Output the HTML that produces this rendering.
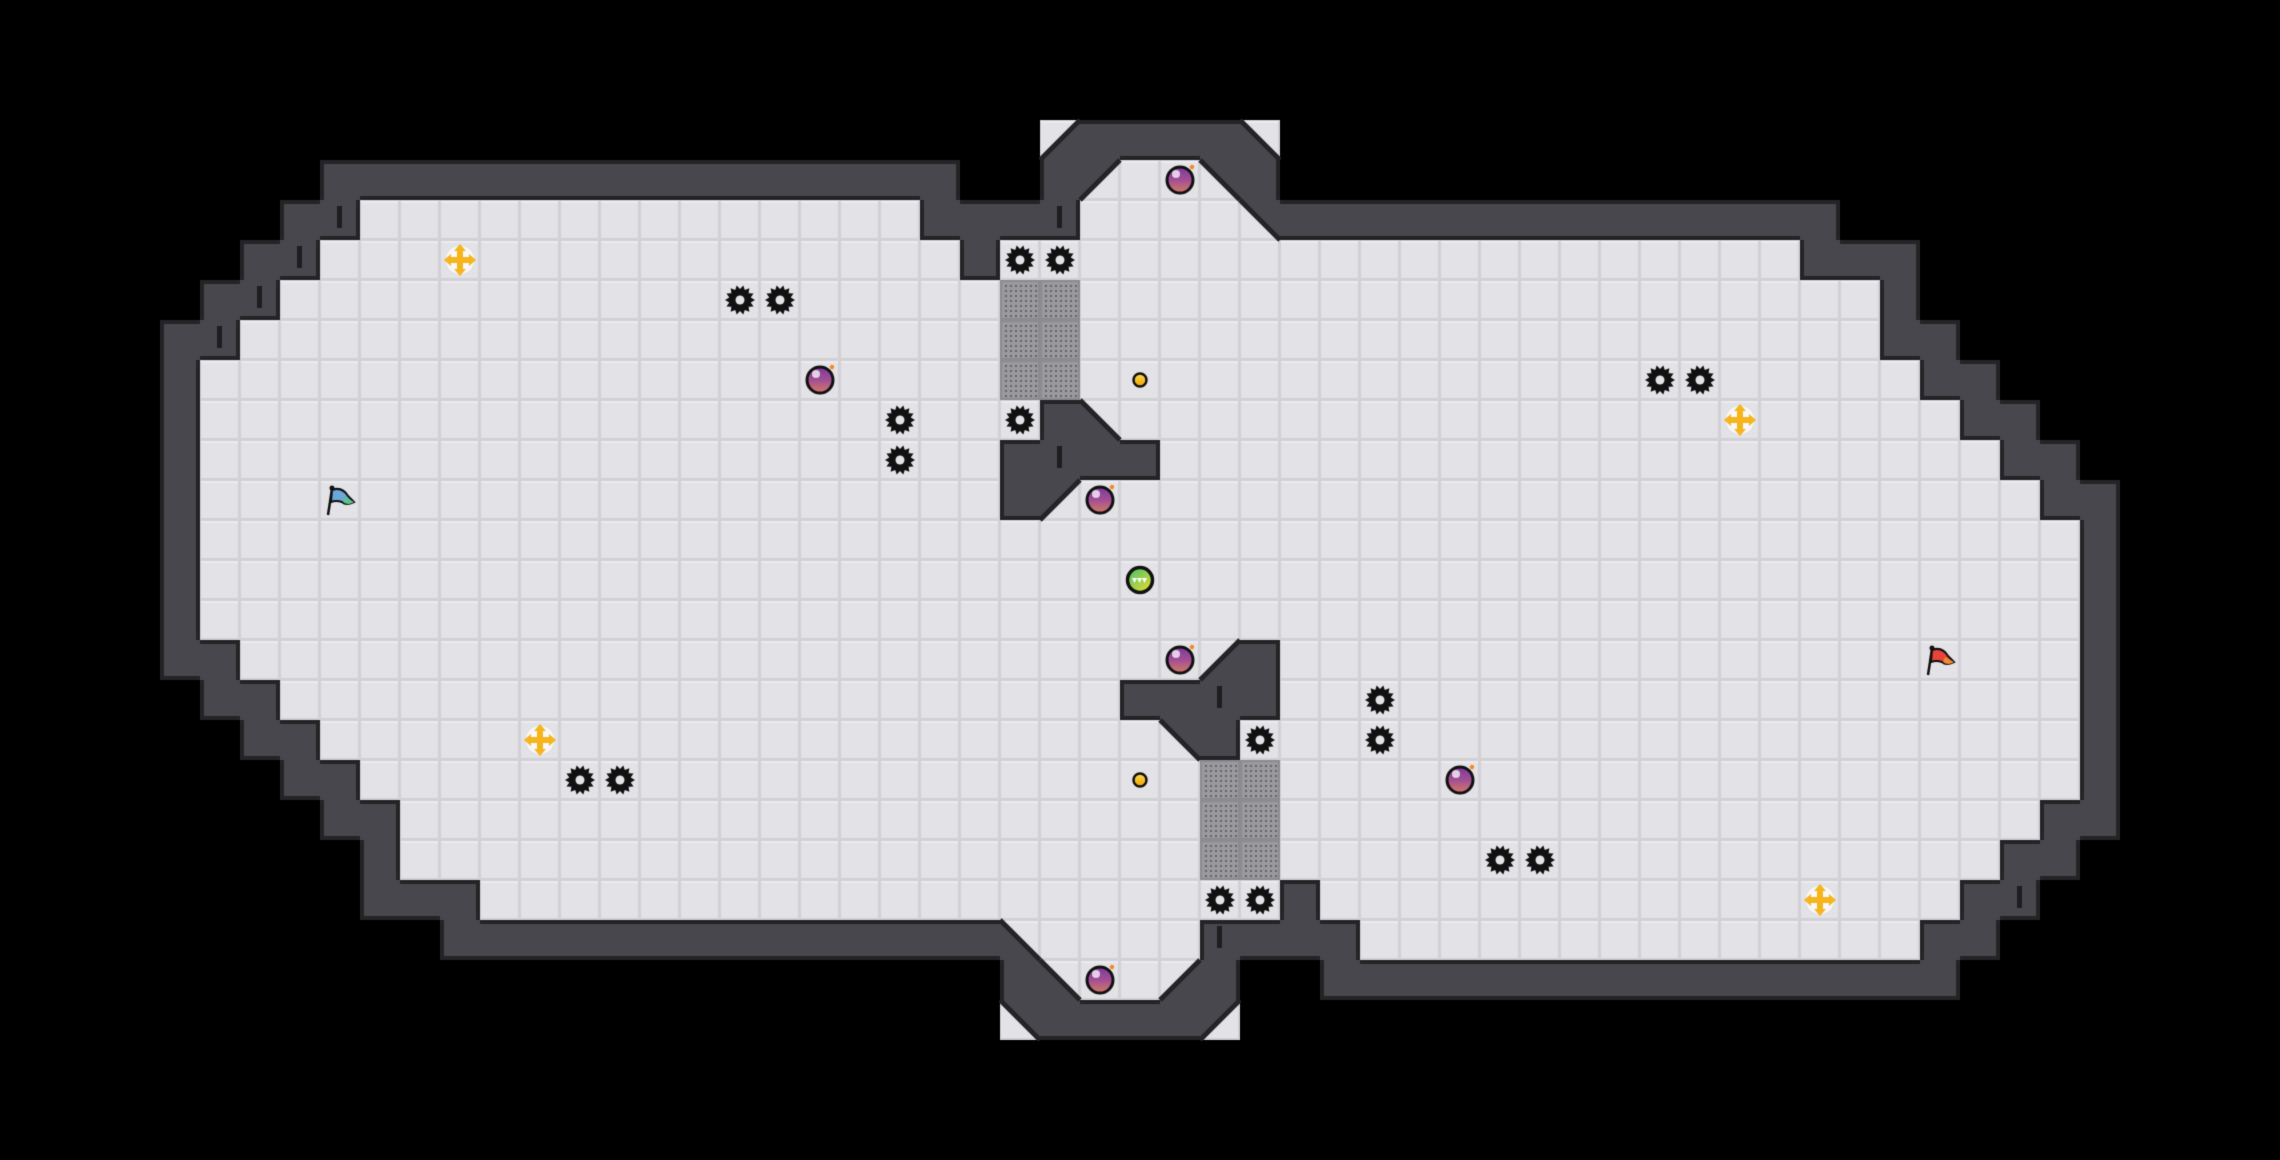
<!DOCTYPE html>
<html><head><meta charset="utf-8"><style>
html,body{margin:0;padding:0;background:#000;width:2280px;height:1160px;overflow:hidden}
canvas{display:block}
</style></head><body>
<canvas id="c" width="2280" height="1160"></canvas>
<script>
const C=40,W=57,H=29;
const cv=document.getElementById('c'),g=cv.getContext('2d');
g.fillStyle='#000';g.fillRect(0,0,2280,1160);
const T=[];for(let r=0;r<H;r++){T.push(new Array(W).fill(0));}
const up={4:[[28,29]],5:[[9,22],[27,30]],6:[[8,23],[25,44]],7:[[7,46]],8:[[6,46]],9:[[5,47]],
10:[[5,25],[28,48]],11:[[5,24],[29,49]],12:[[5,24],[27,50]],13:[[5,51]],14:[[5,51]]};
for(const r in up)for(const [a,b] of up[r])for(let c=a;c<=b;c++)T[r][c]=1;
T[4][27]='BR';T[4][30]='BL';T[5][31]='BL';T[10][27]='TR';T[12][26]='BR';
const mt={BR:'TL',TL:'BR',BL:'TR',TR:'BL'};
for(let r=15;r<H;r++)for(let c=0;c<W;c++){const v=T[28-r][56-c];T[r][c]=(typeof v==='string')?mt[v]:v;}
const isF=v=>v===1||typeof v==='string';
const excl={'32,4':1,'24,24':1};
for(let r=0;r<H;r++)for(let c=0;c<W;c++){
 if(T[r][c]!==0||excl[c+','+r])continue;
 let adj=false;
 for(let dr=-1;dr<=1;dr++)for(let dc=-1;dc<=1;dc++){const rr=r+dr,cc=c+dc;if(rr>=0&&rr<H&&cc>=0&&cc<W&&isF(T[rr][cc]))adj=true;}
 if(adj)T[r][c]=2;
}
const WALL='#48474d',EDGE='#242427';
function floorCell(x,y){
 g.fillStyle='#d1d1d6';g.fillRect(x,y,C,C);
 g.fillStyle='#e3e3e7';g.fillRect(x+1,y+1,C-3,C-3);
 g.fillStyle='#ececef';g.fillRect(x+1,y+1,C-3,2);
}
function tri(x,y,k){
 const p={BR:[[x+C,y],[x+C,y+C],[x,y+C]],BL:[[x,y],[x+C,y+C],[x,y+C]],TR:[[x,y],[x+C,y],[x+C,y+C]],TL:[[x,y],[x+C,y],[x,y+C]]}[k];
 g.beginPath();g.moveTo(...p[0]);g.lineTo(...p[1]);g.lineTo(...p[2]);g.closePath();
}
function diag(x,y,k){
 g.beginPath();
 if(k==='BR'||k==='TL'){g.moveTo(x,y+C);g.lineTo(x+C,y);}else{g.moveTo(x,y);g.lineTo(x+C,y+C);}
 g.strokeStyle=EDGE;g.lineWidth=5;g.stroke();
}
for(let r=0;r<H;r++)for(let c=0;c<W;c++){
 const v=T[r][c],x=c*C,y=r*C;
 if(v===1)floorCell(x,y);
 else if(v===2){g.fillStyle=WALL;g.fillRect(x,y,C,C);}
 else if(typeof v==='string'){g.fillStyle=WALL;g.fillRect(x,y,C,C);g.save();tri(x,y,v);g.clip();floorCell(x,y);g.restore();}
}
function touches(v,side){
 if(v===1)return true;
 const m={BR:['R','B'],BL:['L','B'],TR:['T','R'],TL:['T','L']};
 return typeof v==='string'&&m[v].includes(side);
}
const get=(c,r)=>(r<0||r>=H||c<0||c>=W)?0:T[r][c];
g.fillStyle=EDGE;
for(let r=0;r<H;r++)for(let c=0;c<W;c++){
 if(T[r][c]!==2)continue;const x=c*C,y=r*C,e=4;
 const n=[[0,-1,'B',x,y,C,e],[0,1,'T',x,y+C-e,C,e],[-1,0,'R',x,y,e,C],[1,0,'L',x+C-e,y,e,C]];
 for(const [dc,dr,s,rx,ry,rw,rh] of n){const nv=get(c+dc,r+dr);if(touches(nv,s)||nv===0){g.fillRect(rx,ry,rw,rh);}}
}
for(let r=0;r<H;r++)for(let c=0;c<W;c++){const v=T[r][c];if(typeof v==='string')diag(c*C,r*C,v);}
// light corners (after edges)
const lc=[[26,3,'TL'],[31,3,'TR'],[30,25,'BR'],[25,25,'BL']];
for(const [c,r,k] of lc){const x=c*C,y=r*C;g.save();tri(x,y,k);g.clip();floorCell(x,y);g.restore();diag(x,y,k);}
g.fillStyle='#1e1e21';
const ticks=[[8,5],[7,6],[6,7],[5,8],[26,5],[26,11],[30,17],[30,23],[48,20],[49,21],[50,22],[51,23],[47,22]];
for(const [c,r] of ticks){if(T[r][c]===2)g.fillRect(c*C+17,r*C+6,5,22);}
function grate(c,r){const x=c*C,y=r*C;g.fillStyle='#8b8b90';g.fillRect(x,y,C,C);g.fillStyle='#9a9a9e';g.fillRect(x+2,y+2,C-4,C-4);
 g.fillStyle='#66666b';for(let i=0;i<7;i++)for(let j=0;j<7;j++)g.fillRect(x+5+i*5,y+5+j*5,2,2);}
for(let r=7;r<=9;r++){grate(25,r);grate(26,r);}
for(let r=19;r<=21;r++){grate(30,r);grate(31,r);}
function saw(c,r){const cx=c*C+20,cy=r*C+20;g.beginPath();const n=14;
 for(let i=0;i<n*2;i++){const a=i*Math.PI/n;const rr=i%2?11:15;g.lineTo(cx+rr*Math.cos(a),cy+rr*Math.sin(a));}
 g.closePath();g.fillStyle='#111';g.fill();g.beginPath();g.arc(cx,cy,10,0,7);g.fill();
 g.beginPath();g.arc(cx,cy,4.5,0,7);g.fillStyle='#e3e3e7';g.fill();}
[[25,6],[26,6],[18,7],[19,7],[22,10],[25,10],[22,11],[41,9],[42,9],[34,17],[34,18],[31,18],[14,19],[15,19],[37,21],[38,21],[30,22],[31,22]].forEach(p=>saw(...p));
function bomb(c,r){const cx=c*C+20,cy=r*C+20;const gr=g.createLinearGradient(cx,cy-13,cx,cy+13);
 gr.addColorStop(0,'#7f3a9a');gr.addColorStop(0.5,'#a24f95');gr.addColorStop(1,'#d47a62');
 g.beginPath();g.arc(cx,cy,13,0,7);g.fillStyle=gr;g.fill();g.lineWidth=3;g.strokeStyle='#111';g.stroke();
 g.beginPath();g.arc(cx-4,cy-6,4,0,7);g.fillStyle='rgba(255,255,255,.75)';g.fill();
 g.beginPath();g.arc(cx+12,cy-13,2.2,0,7);g.fillStyle='#f08a20';g.fill();}
[[29,4],[20,9],[27,12],[29,16],[36,19],[27,24]].forEach(p=>bomb(...p));
function cross(c,r){const cx=c*C+20,cy=r*C+20;g.beginPath();g.arc(cx,cy,14,0,7);g.fillStyle='rgba(255,255,255,.7)';g.fill();
 g.fillStyle='#f5b51e';g.fillRect(cx-3,cy-12,6,24);g.fillRect(cx-12,cy-3,24,6);
 const ar=(x1,y1,x2,y2,x3,y3)=>{g.beginPath();g.moveTo(x1,y1);g.lineTo(x2,y2);g.lineTo(x3,y3);g.fill();};
 ar(cx,cy-16,cx-6,cy-9,cx+6,cy-9);ar(cx,cy+16,cx-6,cy+9,cx+6,cy+9);ar(cx-16,cy,cx-9,cy-6,cx-9,cy+6);ar(cx+16,cy,cx+9,cy-6,cx+9,cy+6);}
[[11,6],[43,10],[13,18],[45,22]].forEach(p=>cross(...p));
function coin(c,r){const cx=c*C+20,cy=r*C+20;const gr=g.createLinearGradient(cx,cy-7,cx,cy+7);gr.addColorStop(0,'#ffe04a');gr.addColorStop(1,'#f0a000');
 g.beginPath();g.arc(cx,cy,6.5,0,7);g.fillStyle=gr;g.fill();g.lineWidth=2.5;g.strokeStyle='#111';g.stroke();}
coin(28,9);coin(28,19);
(function(){const cx=28*C+20,cy=14*C+20;const gr=g.createLinearGradient(cx-10,cy-12,cx+10,cy+12);gr.addColorStop(0,'#4cc26a');gr.addColorStop(1,'#e6dc30');
 g.beginPath();g.arc(cx,cy,12.5,0,7);g.fillStyle=gr;g.fill();g.lineWidth=3.5;g.strokeStyle='#111';g.stroke();
 g.fillStyle='#fff';for(let i=0;i<3;i++){g.beginPath();g.moveTo(cx-8+i*5,cy-2);g.lineTo(cx-3+i*5,cy-2);g.lineTo(cx-5.5+i*5,cy+3);g.fill();}})();
function flag(c,r,c1,c2){const x=c*C+4,y=r*C;g.strokeStyle='#111';g.lineWidth=2.5;g.beginPath();g.moveTo(x+4,y+35);g.lineTo(x+8,y+9);g.stroke();
 g.beginPath();g.moveTo(x+8,y+10);g.quadraticCurveTo(x+18,y+6,x+24,y+16);g.lineTo(x+30,y+22);g.quadraticCurveTo(x+22,y+26,x+18,y+22);g.quadraticCurveTo(x+12,y+20,x+7,y+22);g.closePath();
 g.fillStyle=c1;g.fill();g.lineWidth=2;g.stroke();
 g.beginPath();g.moveTo(x+21,y+17);g.lineTo(x+30,y+22);g.quadraticCurveTo(x+24,y+26,x+19,y+22);g.closePath();g.fillStyle=c2;g.fill();
 g.beginPath();g.arc(x+8,y+8,2.5,0,7);g.fillStyle='#111';g.fill();}
flag(8,12,'#6aa8d8','#5cc28a');flag(48,16,'#e8443c','#f08a30');
</script>
</body></html>
